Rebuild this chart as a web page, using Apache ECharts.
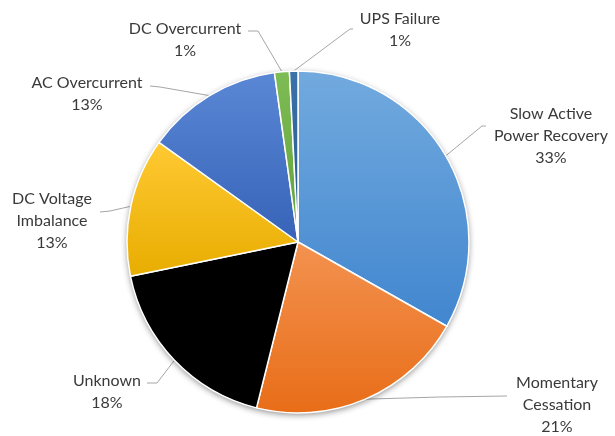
<!DOCTYPE html>
<html><head><meta charset="utf-8">
<script src="https://cdn.jsdelivr.net/npm/echarts@6/dist/echarts.min.js"></script>
<style>html,body{margin:0;padding:0;background:#fff}#c{width:615px;height:436px}</style>
</head><body><div id="c"></div>
<script>
// ---- data ----
const categories = ['Slow Active\nPower Recovery', 'Momentary\nCessation', 'Unknown', 'DC Voltage\nImbalance', 'AC Overcurrent', 'DC Overcurrent', 'UPS Failure'];
const shares = [33.2, 20.7, 17.9, 13.1, 12.9, 1.4, 0.8];

// ---- styles / layout ----
const gradients = [
  ['#72aade', '#4186cf'],
  ['#f39250', '#e86d18'],
  ['#000000', '#000000'],
  ['#ffc933', '#e8ad00'],
  ['#5a87d5', '#3763b8'],
  ['#7ebd55', '#62a03a'],
  ['#3a72aa', '#23598c']
];
const labelAnchors = [[551, 136], [557, 405], [107, 392], [52, 221], [87, 94], [185, 40], [400, 30]];
const lineTails = [
  [[482, 126], [486, 126]],
  [[440, 397], [507, 396]],
  [[157, 383], [147, 383]],
  [[110, 211], [100, 212]],
  [[160, 87], [150, 86]],
  [[258, 31], [248, 31]],
  [[350, 29], [353, 29]]
];
const CX = 298, CY = 242, R = 171;

const pieData = categories.map((name, i) => ({
  name: name,
  value: shares[i],
  itemStyle: {
    color: new echarts.graphic.LinearGradient(0, 0, 0, 1, [
      { offset: 0, color: gradients[i][0] },
      { offset: 1, color: gradients[i][1] }
    ])
  }
}));

const chart = echarts.init(document.getElementById('c'), null, { renderer: 'canvas' });
chart.setOption({
  animation: false,
  backgroundColor: '#ffffff',
  series: [
    {
      type: 'pie',
      silent: true,
      center: [CX, CY],
      radius: R,
      label: { show: false },
      labelLine: { show: false },
      emphasis: { disabled: true },
      itemStyle: { color: '#ffffff', shadowBlur: 6, shadowOffsetY: 2, shadowColor: 'rgba(0,0,0,0.45)' },
      data: [{ value: 1, name: '' }]
    },
    {
      type: 'pie',
      center: [CX, CY],
      radius: R,
      startAngle: 90,
      clockwise: true,
      avoidLabelOverlap: false,
      itemStyle: { borderColor: '#ffffff', borderWidth: 1.5 },
      label: {
        show: true,
        position: 'outside',
        fontFamily: 'Lato',
        fontSize: 16,
        lineHeight: 22,
        color: '#3a3a3a',
        align: 'center',
        formatter: p => p.name + '\n' + Math.round(p.percent) + '%'
      },
      labelLine: { show: true, lineStyle: { color: '#a6a6a6', width: 1 } },
      labelLayout: function (params) {
        const i = params.dataIndex;
        const p0 = params.labelLinePoints ? params.labelLinePoints[0] : lineTails[i][0];
        return {
          x: labelAnchors[i][0],
          y: labelAnchors[i][1],
          align: 'center',
          verticalAlign: 'middle',
          labelLinePoints: [p0, lineTails[i][0], lineTails[i][1]]
        };
      },
      data: pieData
    }
  ]
});
</script>
</body></html>
